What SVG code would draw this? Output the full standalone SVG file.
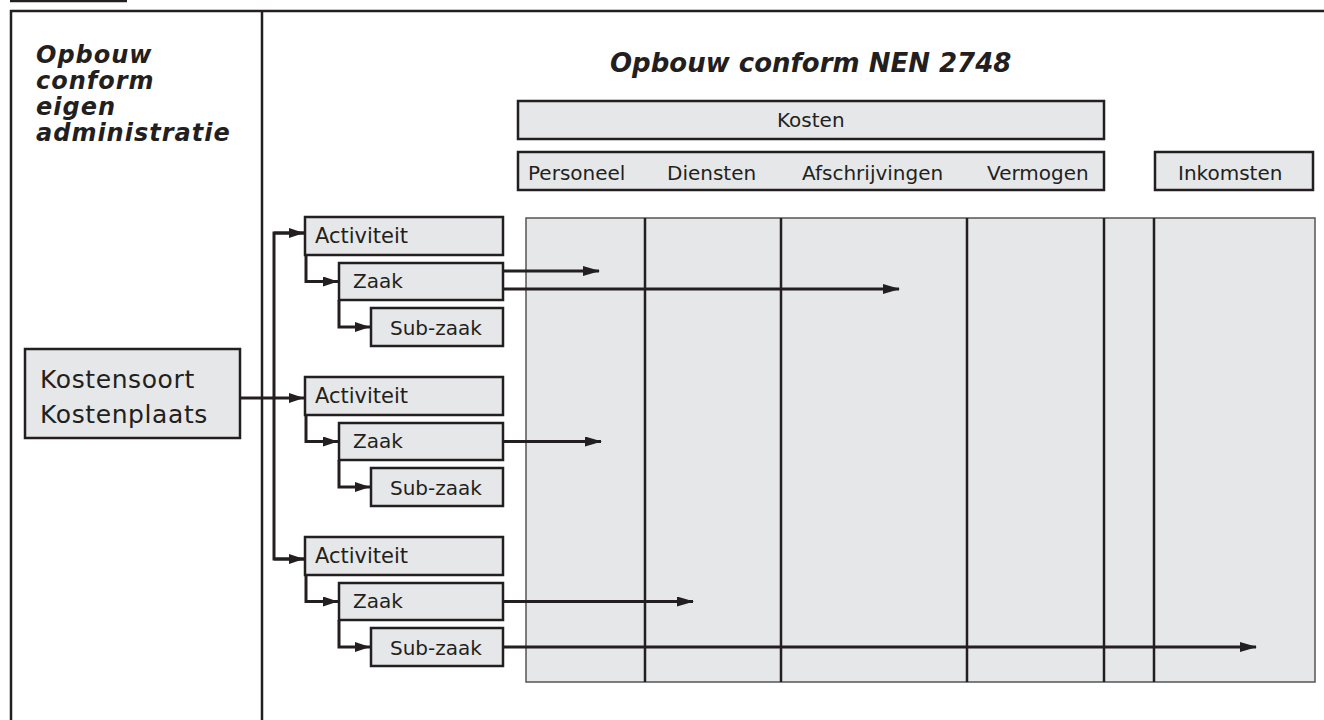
<svg xmlns="http://www.w3.org/2000/svg" width="1324" height="720" viewBox="0 0 1324 720">
<style>
.box{fill:#e6e7e8;stroke:#231f20;stroke-width:2.5}
.t{font-family:"DejaVu Sans",sans-serif;font-size:20px;fill:#231f20}
.h{font-family:"DejaVu Sans",sans-serif;font-size:26px;font-weight:bold;font-style:italic;fill:#231f20}
.hl{font-size:24px;letter-spacing:1px}
.c{fill:none;stroke:#231f20;stroke-width:3}
.fr{stroke:#231f20;stroke-width:2.5;fill:none}
.dv{stroke:#231f20;stroke-width:2.5}
</style>
<defs>
<marker id="ah" markerUnits="userSpaceOnUse" markerWidth="17" markerHeight="10" refX="16" refY="5" orient="auto"><path d="M0,0 L17,5 L0,10 Z" fill="#231f20"/></marker>
<marker id="as" markerUnits="userSpaceOnUse" markerWidth="15" markerHeight="10" refX="15" refY="5" orient="auto"><path d="M0,0 L15,5 L0,10 Z" fill="#231f20"/></marker>
</defs>
<rect width="1324" height="720" fill="#fff"/>
<g id="frame">
<line x1="10" y1="1" x2="127" y2="1" class="fr"/>
<line x1="10" y1="11" x2="1324" y2="11" class="fr"/>
<line x1="11" y1="10" x2="11" y2="720" class="fr"/>
<line x1="262" y1="10" x2="262" y2="720" class="fr"/>
</g>
<g id="left-title">
<text class="h hl" x="36" y="63">Opbouw</text>
<text class="h hl" x="36" y="89">conform</text>
<text class="h hl" x="36" y="115">eigen</text>
<text class="h hl" x="36" y="141">administratie</text>
</g>
<g id="title"><text class="h" x="610" y="72">Opbouw conform NEN 2748</text></g>
<g id="kosten"><rect class="box" x="518" y="101" width="586" height="38"/><text class="t" x="777" y="127">Kosten</text></g>
<g id="categories"><rect class="box" x="518" y="152" width="586" height="38"/>
<text class="t" x="528" y="180">Personeel</text>
<text class="t" x="667" y="180">Diensten</text>
<text class="t" x="802" y="180">Afschrijvingen</text>
<text class="t" x="987" y="180">Vermogen</text>
</g>
<g id="inkomsten"><rect class="box" x="1155" y="152" width="158" height="38"/><text class="t" x="1178" y="180">Inkomsten</text></g>
<g id="grid">
<rect x="526" y="218" width="789" height="464" fill="#e6e7e8" stroke="#555" stroke-width="1.5"/>
<line class="dv" x1="645" y1="218" x2="645" y2="682"/>
<line class="dv" x1="781" y1="218" x2="781" y2="682"/>
<line class="dv" x1="967" y1="218" x2="967" y2="682"/>
<line class="dv" x1="1104" y1="218" x2="1104" y2="682"/>
<line class="dv" x1="1154" y1="218" x2="1154" y2="682"/>
</g>
<g id="kostensoort"><rect class="box" x="25" y="349" width="215" height="89"/>
<text class="t" x="40" y="388" style="font-size:25px;letter-spacing:0.6px">Kostensoort</text>
<text class="t" x="40" y="423" style="font-size:25px;letter-spacing:0.6px">Kostenplaats</text></g>
<g id="activiteit1"><rect class="box" x="305" y="217" width="198" height="38"/><text class="t" x="315" y="243" style="font-size:21px">Activiteit</text></g>
<g id="zaak1"><rect class="box" x="339" y="263" width="164" height="37"/><text class="t" x="353" y="288">Zaak</text></g>
<g id="subzaak1"><rect class="box" x="371" y="308" width="132" height="38"/><text class="t" x="390" y="335">Sub-zaak</text></g>
<g id="activiteit2"><rect class="box" x="305" y="377" width="198" height="38"/><text class="t" x="315" y="403" style="font-size:21px">Activiteit</text></g>
<g id="zaak2"><rect class="box" x="339" y="423" width="164" height="37"/><text class="t" x="353" y="448">Zaak</text></g>
<g id="subzaak2"><rect class="box" x="371" y="468" width="132" height="38"/><text class="t" x="390" y="495">Sub-zaak</text></g>
<g id="activiteit3"><rect class="box" x="305" y="537" width="198" height="38"/><text class="t" x="315" y="563" style="font-size:21px">Activiteit</text></g>
<g id="zaak3"><rect class="box" x="339" y="583" width="164" height="37"/><text class="t" x="353" y="608">Zaak</text></g>
<g id="subzaak3"><rect class="box" x="371" y="628" width="132" height="38"/><text class="t" x="390" y="655">Sub-zaak</text></g>
<g id="connectors">
<path class="c" d="M240,398 H304" marker-end="url(#as)"/>
<path class="c" d="M304,233 H274 V559 H304" />
<path class="c" d="M274,233 H304" marker-end="url(#as)"/>
<path class="c" d="M274,559 H304" marker-end="url(#as)"/>
<path class="c" d="M306,255 V281.5 H338" marker-end="url(#as)"/>
<path class="c" d="M339,300 V327 H370" marker-end="url(#as)"/>
<path class="c" d="M306,415 V441.5 H338" marker-end="url(#as)"/>
<path class="c" d="M339,460 V487 H370" marker-end="url(#as)"/>
<path class="c" d="M306,575 V601.5 H338" marker-end="url(#as)"/>
<path class="c" d="M339,620 V647 H370" marker-end="url(#as)"/>
<path class="c" d="M503,271 H599" marker-end="url(#ah)"/>
<path class="c" d="M503,289 H899" marker-end="url(#ah)"/>
<path class="c" d="M503,441.5 H601" marker-end="url(#ah)"/>
<path class="c" d="M503,601.5 H693" marker-end="url(#ah)"/>
<path class="c" d="M503,647 H1256" marker-end="url(#ah)"/>
</g>
</svg>
